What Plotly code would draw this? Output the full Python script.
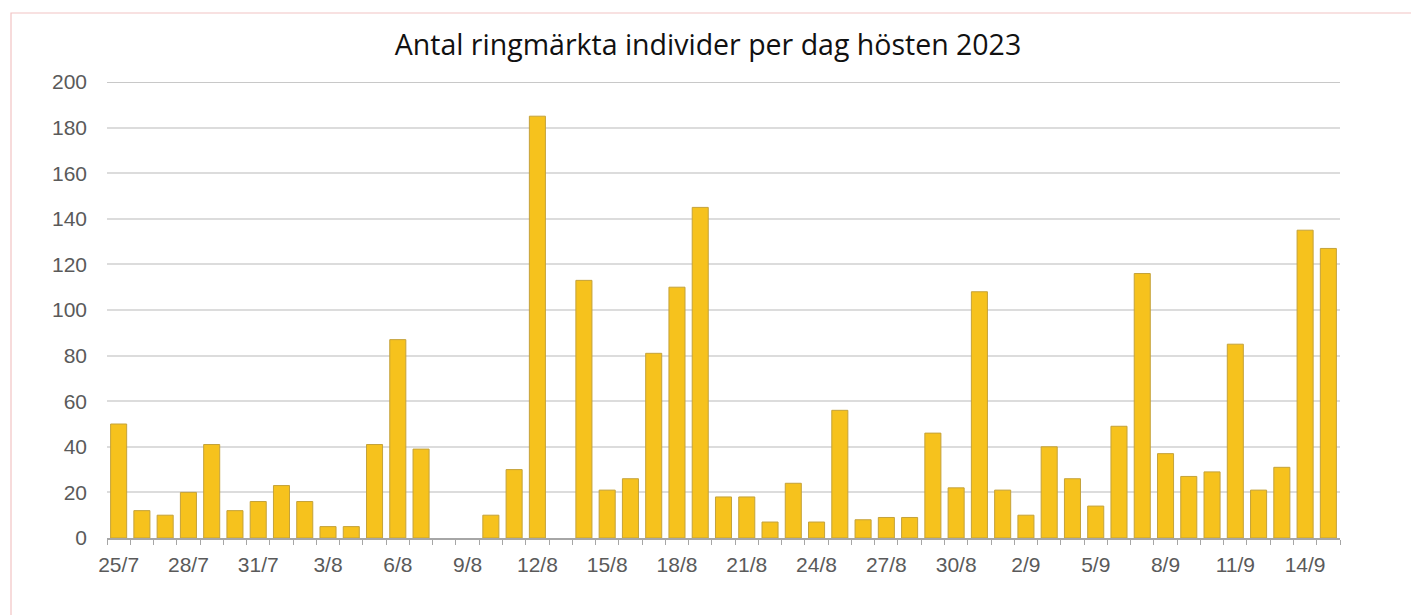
import plotly.graph_objects as go

dates = ["25/7", "26/7", "27/7", "28/7", "29/7", "30/7", "31/7",
         "1/8", "2/8", "3/8", "4/8", "5/8", "6/8", "7/8", "8/8", "9/8", "10/8",
         "11/8", "12/8", "13/8", "14/8", "15/8", "16/8", "17/8", "18/8", "19/8",
         "20/8", "21/8", "22/8", "23/8", "24/8", "25/8", "26/8", "27/8", "28/8",
         "29/8", "30/8", "31/8",
         "1/9", "2/9", "3/9", "4/9", "5/9", "6/9", "7/9", "8/9", "9/9", "10/9",
         "11/9", "12/9", "13/9", "14/9", "15/9"]
counts = [50, 12, 10, 20, 41, 12, 16,
          23, 16, 5, 5, 41, 87, 39, 0, 0, 10,
          30, 185, 0, 113, 21, 26, 81, 110, 145,
          18, 18, 7, 24, 7, 56, 8, 9, 9,
          46, 22, 108,
          21, 10, 40, 26, 14, 49, 116, 37, 27, 29,
          85, 21, 31, 135, 127]
y_ticks = [0, 20, 40, 60, 80, 100, 120, 140, 160, 180, 200]
title_text = "Antal ringmärkta individer per dag hösten 2023"

x_pos = list(range(len(dates)))
label_idx = x_pos[::3]

fig = go.Figure(go.Bar(
    x=x_pos, y=counts,
    marker=dict(color="#F6C21D",
                line=dict(color="#C4A23A",
                          width=[0 if v == 0 else 1 for v in counts])),
))

W, H = 1419, 615
S = 8  # page body offset
L, R, T, B = 107 - S, 79 + S, 82 - S, 77 + S
pw, ph = W - L - R, H - T - B

fig.update_layout(
    width=W, height=H,
    margin=dict(l=L, r=R, t=T, b=B),
    paper_bgcolor="white", plot_bgcolor="white",
    bargap=0.31,
    showlegend=False,
    title=dict(text=title_text, x=(708 - S) / W, xanchor="center",
               y=1 - (45 - S) / H, yanchor="middle", yref="container",
               font=dict(family="Open Sans", size=28.5, color="#111111")),
    shapes=[
        dict(type="rect", xref="paper", yref="paper",
             x0=(11 - S - L) / pw, x1=(W + 20 - L) / pw,
             y0=-(B + 20) / ph, y1=(H - B - (13 - S)) / ph,
             line=dict(color="#F2C4C4", width=1.2), layer="below"),
        dict(type="line", xref="paper", yref="y", x0=0, x1=1, y0=200, y1=200,
             line=dict(color="#C8C8C8", width=2), layer="below"),
    ],
)
fig.update_xaxes(
    range=[-0.5, len(dates) - 0.5],
    tickmode="array", tickvals=label_idx, ticktext=[dates[i] for i in label_idx],
    ticks="", showgrid=False, zeroline=False,
    showline=True, linecolor="#A6A6A6", linewidth=1.5,
    ticklabelstandoff=7,
    tickfont=dict(family="Liberation Sans", size=21, color="#5A5A5A"),
    minor=dict(tickmode="linear", tick0=-0.5, dtick=1, ticks="outside",
               ticklen=5, tickcolor="#A6A6A6", showgrid=False),
)
fig.update_yaxes(
    range=[0, 200], tickmode="array", tickvals=y_ticks,
    showgrid=True, gridcolor="#DCDCDC", gridwidth=1.5,
    zeroline=False, showline=False, ticks="",
    ticklabelstandoff=19,
    tickfont=dict(family="Liberation Sans", size=21, color="#5A5A5A"),
)

fig.write_html("out.html")
